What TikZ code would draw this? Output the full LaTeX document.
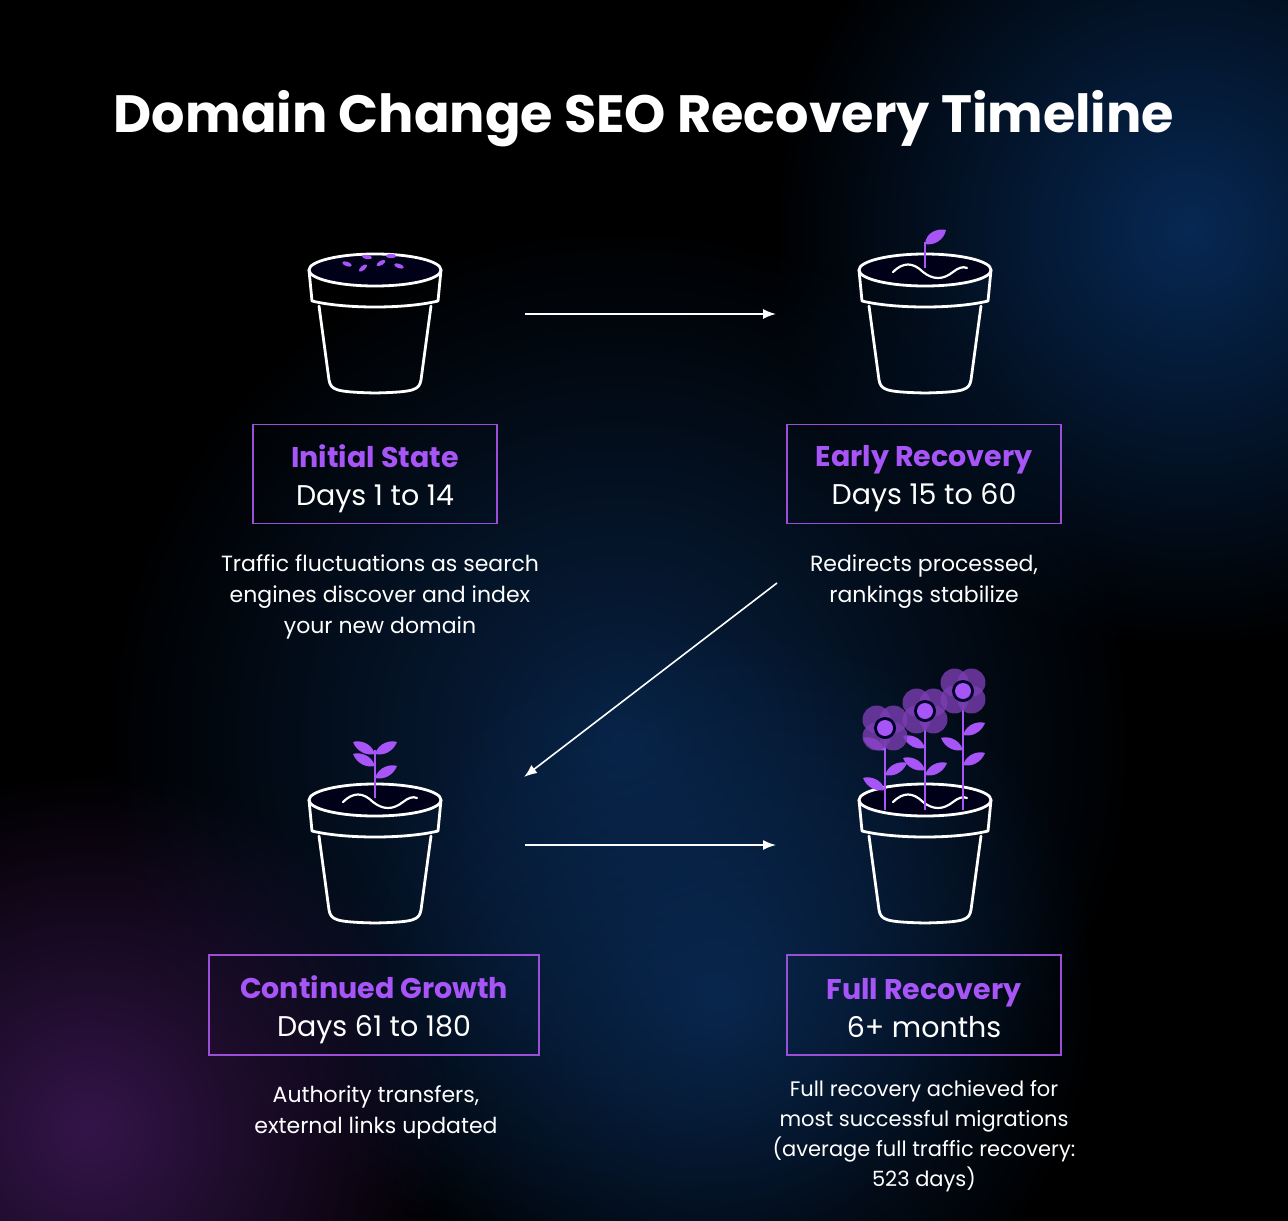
\documentclass[tikz,border=0pt]{standalone}
\usepackage{fontspec}
\setmainfont{Poppins}
\usetikzlibrary{fadings,arrows.meta}
\tikzfading[name=glow, inner color=transparent!30, outer color=transparent!100]
\definecolor{pur}{HTML}{A855F7}
\definecolor{pbox}{HTML}{9B4FD6}
\definecolor{petal}{HTML}{7A3DB2}
\definecolor{gblue}{HTML}{0A3A78}
\definecolor{gmid}{HTML}{0B3060}
\definecolor{gpur}{HTML}{4A1E6A}
\tikzset{
  potline/.style={white, line width=2.8pt, line join=round, line cap=round},
  box/.style={draw=pbox, line width=1.6pt, inner sep=0pt},
  boxtext/.style={align=center, inner sep=0pt, font=\fontsize{28.5}{38}\selectfont, text=white},
  desc/.style={align=center, text=white, font=\fontsize{22}{31}\selectfont},
  arr/.style={white, line width=1.6pt, -{Latex[length=13pt,width=10pt]}},
  leaf/.style={fill=pur, draw=none},
  pics/pot/.style={code={
    \fill[black!90!blue] (0,0) ellipse (66 and 16);
    \draw[potline] (0,0) ellipse (66 and 16);
    \draw[potline] (-66,0) -- (-63,31) .. controls (-30,39) and (30,39) .. (63,31) -- (66,0);
    \draw[potline] (-56,36) -- (-46,110) .. controls (-44,120) and (-40,122) .. (0,123)
       .. controls (40,122) and (44,120) .. (46,110) -- (56,36);
  }},
  pics/wave/.style={code={
    \draw[potline, line width=2.2pt] (-32,2) .. controls (-22,-8) and (-12,-8) .. (-2,2)
      .. controls (8,10) and (18,10) .. (28,2) .. controls (33,-2) and (38,-4) .. (42,-2);
  }},
  pics/leafr/.style={code={\fill[leaf] (0,0) .. controls (4,-12) and (16,-14) .. (22,-12) .. controls (18,-2) and (8,2) .. (0,0);}},
  pics/leafl/.style={code={\fill[leaf] (0,0) .. controls (-4,-12) and (-16,-14) .. (-22,-12) .. controls (-18,-2) and (-8,2) .. (0,0);}},
  pics/flower/.style={code={
    \foreach \a in {45,135,225,315} \fill[petal, opacity=0.8] (\a:12) circle (14);
    \fill[black!85!blue] (0,0) circle (11);
    \fill[pur] (0,0) circle (8);
  }}
}
\begin{document}
\begin{tikzpicture}[x=1pt,y=-1pt]
\useasboundingbox (0,0) rectangle (1288,1221);
\fill[black] (0,0) rectangle (1288,1221);
\begin{scope}
\clip (0,0) rectangle (1288,1221);
\fill[gblue, path fading=glow] (1190,230) circle (420);
\fill[gmid, path fading=glow] (620,740) circle (520);
\fill[gmid, path fading=glow] (720,1000) circle (380);
\fill[gpur, path fading=glow] (90,1130) circle (360);
\end{scope}

\node[text=white, font=\fontsize{52.5}{60}\bfseries\selectfont] (title) at (644,119) {Domain Change SEO Recovery Timeline};

% pots
\pic at (375,270) {pot};
\foreach \x/\y/\r in {-28/-6/-20,-12/-2/40,-8/-13/-10,6/-7/30,16/-14/0,24/-4/-20}
  \fill[pur, rotate around={\r:(375+\x,270+\y)}] (375+\x,270+\y) ellipse (5 and 2.2);

\pic at (925,270) {pot};
\pic at (925,270) {wave};
\draw[pur, line width=2.4pt] (925,268) -- (925,242);
\fill[pur] (925,244) .. controls (926,232) and (938,228) .. (946,230) .. controls (944,240) and (934,246) .. (925,244);

\pic at (375,800) {pot};
\pic at (375,800) {wave};
\draw[pur, line width=2.4pt] (375,798) -- (375,750);
\pic at (375,766) {leafl};
\pic at (375,778) {leafr};
\pic at (375,754) {leafr};
\pic at (375,754) {leafl};

\pic at (925,800) {pot};
\pic at (925,800) {wave};
\foreach \x/\t in {885/728,925/711,963/691} \draw[pur, line width=2.4pt] (\x,\t) -- (\x,810);
\pic at (885,790) {leafl};\pic at (885,775) {leafr};\pic at (885,750) {leafl};
\pic at (925,775) {leafr};\pic at (925,770) {leafl};\pic at (925,748) {leafl};
\pic at (963,765) {leafr};\pic at (963,750) {leafl};\pic at (963,735) {leafr};
\pic at (963,691) {flower};
\pic at (925,711) {flower};
\pic at (885,728) {flower};

% boxes
\node[box, minimum width=244pt, minimum height=99pt] (b1) at (375,474) {};
\node[box, minimum width=274pt, minimum height=99pt] (b2) at (924,474) {};
\node[box, minimum width=330pt, minimum height=100pt] (b3) at (374,1005) {};
\node[box, minimum width=274pt, minimum height=100pt] (b4) at (924,1005) {};
\node[boxtext] (t1) at (375,479) {\textcolor{pur}{\bfseries Initial State}\\Days 1 to 14};
\node[boxtext] (t2) at (924,479) {\textcolor{pur}{\bfseries Early Recovery}\\Days 15 to 60};
\node[boxtext] (t3) at (374,1010) {\textcolor{pur}{\bfseries Continued Growth}\\Days 61 to 180};
\node[boxtext] (t4) at (924,1008) {\textcolor{pur}{\bfseries Full Recovery}\\6+ months};

\node[desc, anchor=north] (d1) at (380,551) {Traffic fluctuations as search\\engines discover and index\\your new domain};
\node[desc, anchor=north] (d2) at (924,551) {Redirects processed,\\rankings stabilize};
\node[desc, anchor=north] (d3) at (376,1082) {Authority transfers,\\external links updated};
\node[desc, anchor=north, font=\fontsize{21}{30}\selectfont] (d4) at (924,1077) {Full recovery achieved for\\most successful migrations\\(average full traffic recovery:\\523 days)};

% arrows
\coordinate (a1s) at (525,314); \coordinate (a1e) at (776,314);
\coordinate (a2s) at (777,583); \coordinate (a2e) at (524,777);
\coordinate (a3s) at (525,845); \coordinate (a3e) at (776,845);
\draw[arr] (a1s) -- (a1e);
\draw[arr] (a2s) -- (a2e);
\draw[arr] (a3s) -- (a3e);
\end{tikzpicture}
\end{document}
